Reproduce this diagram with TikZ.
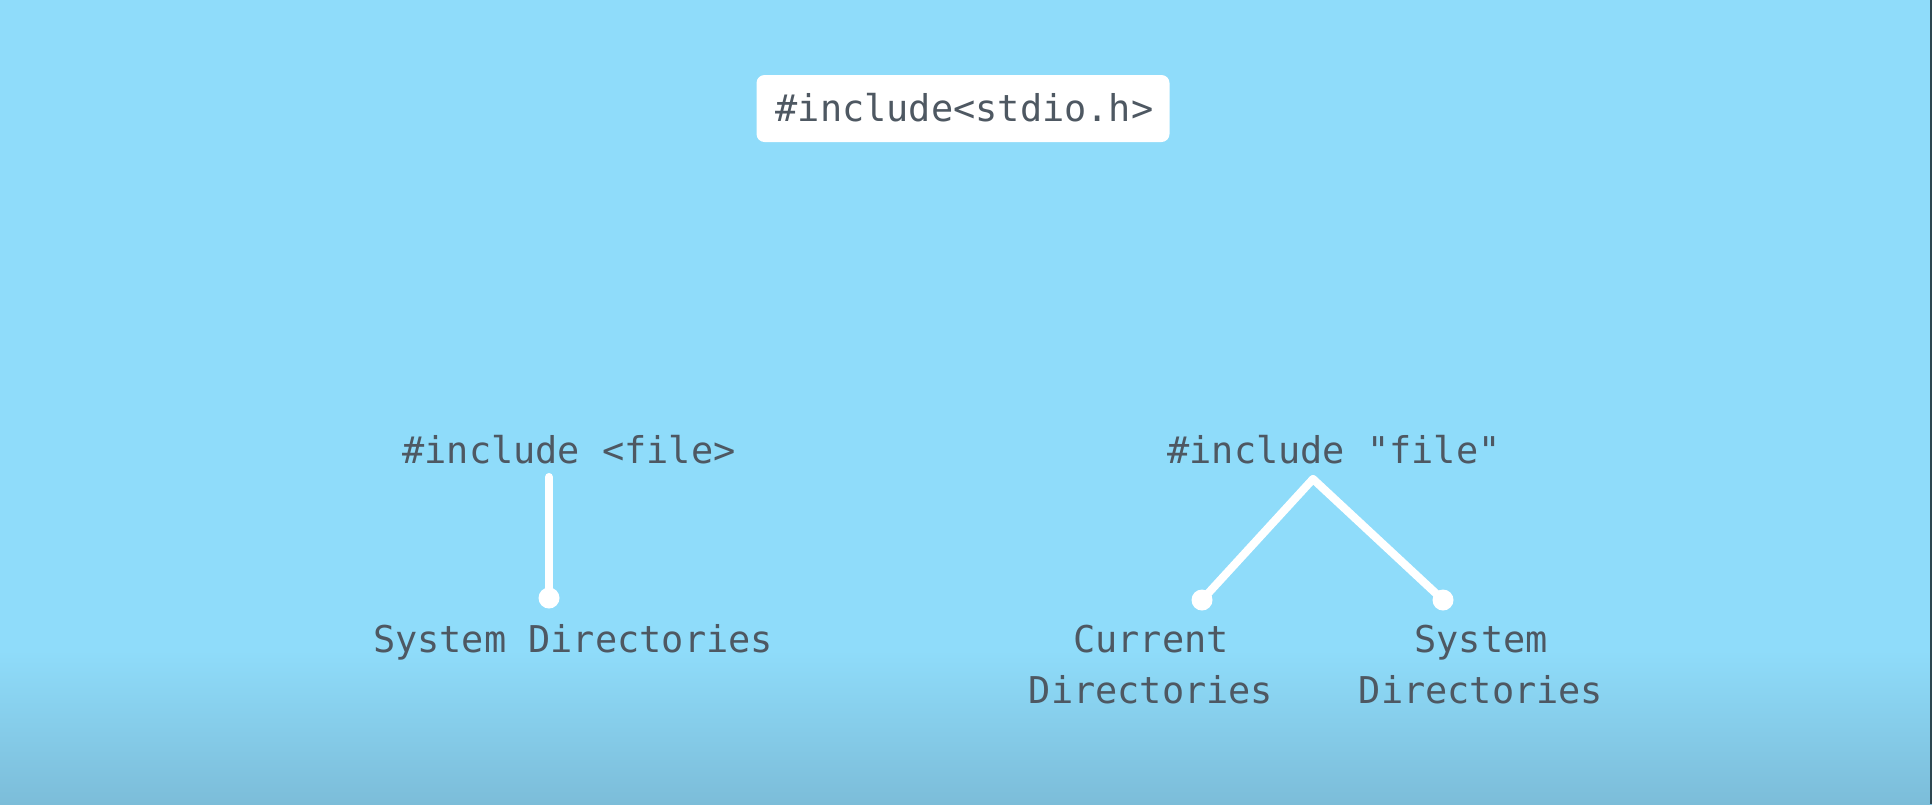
\documentclass[tikz,border=0pt]{standalone}
\usepackage{fontspec}
\newfontfamily\codefont{DejaVu Sans Mono}
\usetikzlibrary{positioning}
\definecolor{skyblue}{RGB}{143,220,250}
\definecolor{deepblue}{RGB}{124,189,217}
\definecolor{inkgray}{RGB}{78,88,98}
\definecolor{edgedark}{RGB}{46,70,80}

\begin{document}
\begin{tikzpicture}
[x=0.1mm, y=-0.1mm,
% STYLES
% The code style is used to write the include lines and the directories
code/.style={inner sep=0pt, anchor=base, text=inkgray, align=center, font=\codefont\fontsize{10.5}{14.5}\selectfont},
% The header style is used for the white box at the top
header/.style={rectangle, fill=white, rounded corners=0.8mm, minimum width=41.3mm, minimum height=6.7mm},
% The link style is used to draw the white branches
link/.style={draw=white, line width=2.3pt, line cap=round},
% The tip style is used for the dots at the end of each branch
tip/.style={circle, fill=white, inner sep=0pt, minimum size=2.1mm}]

% Background
\fill[skyblue] (0,0) rectangle (1932,804);
\shade[top color=skyblue, bottom color=deepblue] (0,650) rectangle (1932,804);
\fill[edgedark] (1930,0) rectangle (1932,804);
\useasboundingbox (0,0) rectangle (1932,804);

% Header
\node [header] (box) at (963,108.5) {};
\node [code] (stdio) at (964.5,121) {\#include<stdio.h>};

% Left branch
\node [code] (angle) at (569,463) {\#include <file>};
\coordinate (angle-top) at (549,477);
\node [tip] (angle-dot) at (549,598) {};
\node [code] (angle-sys) at (573,652) {System Directories};

% Right branch (the base of a two-line node is its last line)
\node [code] (quote) at (1334,463) {\#include "file"};
\coordinate (quote-top) at (1313,479);
\node [tip] (quote-cur-dot) at (1202,600) {};
\node [tip] (quote-sys-dot) at (1443,600) {};
\node [code] (quote-cur) at (1151,703) {Current\\Directories};
\node [code] (quote-sys) at (1481,703) {System\\Directories};

% Draw the links
\path[link]
(angle-top) edge (angle-dot.center)
(quote-top) edge (quote-cur-dot.center)
(quote-top) edge (quote-sys-dot.center);

\end{tikzpicture}
\end{document}
